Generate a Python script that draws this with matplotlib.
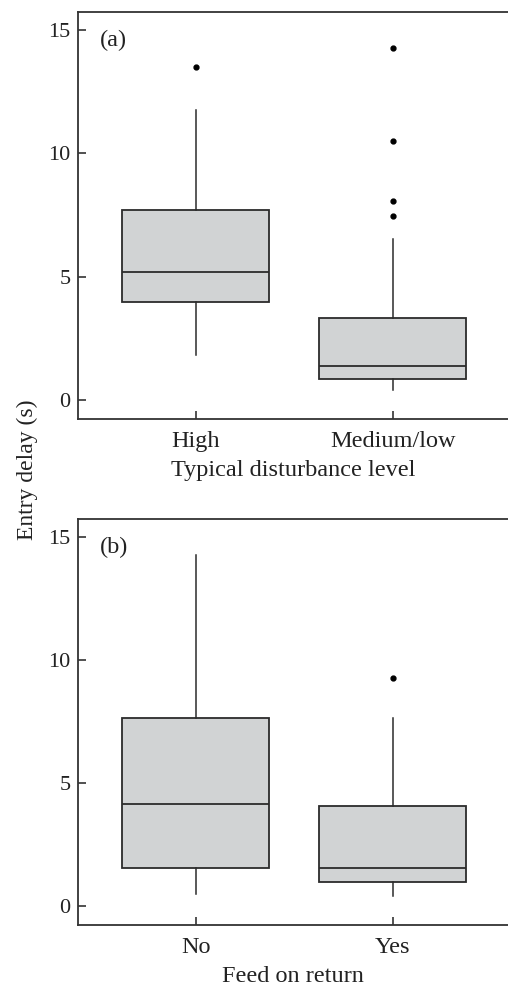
import matplotlib
matplotlib.use("Agg")
import matplotlib.pyplot as plt

plt.rcParams['font.family'] = ['Liberation Serif', 'DejaVu Serif']

# panel (a): typical disturbance level
labels_a = ['High', 'Medium/low']
q1_a = [3.99, 0.84]
med_a = [5.18, 1.38]
q3_a = [7.69, 3.32]
wlo_a = [1.83, 0.41]
whi_a = [11.77, 6.55]
fliers_a = [[13.49], [14.29, 10.49, 8.08, 7.48]]

# panel (b): feed on return
labels_b = ['No', 'Yes']
q1_b = [1.57, 0.99]
med_b = [4.15, 1.56]
q3_b = [7.64, 4.08]
wlo_b = [0.50, 0.41]
whi_b = [14.26, 7.66]
fliers_b = [[], [9.28]]

FILL = '#d1d3d4'
EDGE = '#2b2b2b'
TXT = '#222222'
FS = 17.5
FS_Y = 16


def stats(q1, med, q3, wlo, whi, fl):
    out = []
    for i in range(len(q1)):
        out.append(dict(q1=q1[i], med=med[i], q3=q3[i], whislo=wlo[i],
                        whishi=whi[i], fliers=fl[i]))
    return out


def panel(ax, st, labels, xlabel, tag):
    ax.bxp(st, positions=[1, 2], widths=0.746, showcaps=False,
           patch_artist=True,
           boxprops=dict(facecolor=FILL, edgecolor=EDGE, linewidth=1.3),
           medianprops=dict(color=EDGE, linewidth=1.3),
           whiskerprops=dict(color=EDGE, linewidth=1.1),
           flierprops=dict(marker='o', markersize=3.5, markerfacecolor='black',
                           markeredgecolor='black'))
    ax.set_xlim(0.4025, 2.585)
    ax.set_ylim(-0.77, 15.72)
    ax.set_yticks([0, 5, 10, 15])
    ax.set_xticks([1, 2])
    ax.set_xticklabels(labels)
    ax.spines['right'].set_visible(False)
    for s in ['left', 'top', 'bottom']:
        ax.spines[s].set_linewidth(1.3)
        ax.spines[s].set_color('#333333')
    ax.tick_params(axis='y', direction='in', length=5.5, width=1.1,
                   labelsize=FS_Y, pad=5.5, colors=TXT)
    ax.tick_params(axis='x', direction='in', length=5.5, width=1.1,
                   labelsize=FS, pad=8.5, colors=TXT)
    ax.set_xlabel(xlabel, fontsize=FS, labelpad=6, color=TXT)
    ax.text(0.05, 0.93, tag, transform=ax.transAxes, fontsize=FS,
            va='center', ha='left', color=TXT)


fig = plt.figure(figsize=(5.08, 9.86), dpi=100)
ax1 = fig.add_axes([0.1535, 0.575, 0.8465, 0.4125])
ax2 = fig.add_axes([0.1535, 0.0616, 0.8465, 0.4117])

panel(ax1, stats(q1_a, med_a, q3_a, wlo_a, whi_a, fliers_a), labels_a,
      'Typical disturbance level', '(a)')
panel(ax2, stats(q1_b, med_b, q3_b, wlo_b, whi_b, fliers_b), labels_b,
      'Feed on return', '(b)')

fig.text(0.053, 0.524, 'Entry delay (s)', rotation=90, fontsize=17,
         va='center', ha='center', color=TXT)

fig.savefig('out.png', dpi=100)
